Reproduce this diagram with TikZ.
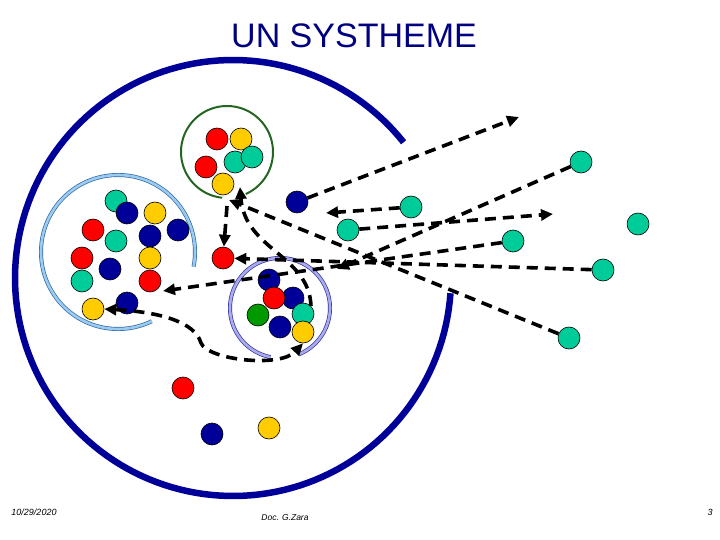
\documentclass[tikz,border=0pt]{standalone}
\usepackage{fontspec}
\setmainfont{Liberation Sans}
\usetikzlibrary{arrows.meta}
\definecolor{cred}{HTML}{FF0000}
\definecolor{cyel}{HTML}{FFCC00}
\definecolor{cteal}{HTML}{00CC99}
\definecolor{cnavy}{HTML}{000099}
\definecolor{cgreen}{HTML}{009900}
\definecolor{cdkgreen}{HTML}{226622}
\definecolor{lbband}{HTML}{99CCEE}
\definecolor{lbedge}{HTML}{3366AA}
\definecolor{lvband}{HTML}{AAAAEE}
\definecolor{lvedge}{HTML}{333399}
\definecolor{titleblue}{HTML}{000080}
\begin{document}
\begin{tikzpicture}[x=1pt,y=-1pt,
  ball/.style={circle,draw=black,line width=0.6pt,minimum size=22pt,inner sep=0pt},
  rb/.style={ball,fill=cred},
  yb/.style={ball,fill=cyel},
  tb/.style={ball,fill=cteal},
  nb/.style={ball,fill=cnavy},
  gb/.style={ball,fill=cgreen},
  darr/.style={draw=black,line width=3.6pt,dash pattern=on 11pt off 7pt,-{Triangle[length=12pt,width=11pt]}},
  ddarr/.style={draw=black,line width=3.6pt,dash pattern=on 11pt off 7pt,{Triangle[length=12pt,width=11pt]}-{Triangle[length=12pt,width=11pt]}},
  foot/.style={font=\fontsize{9}{10}\selectfont\itshape,inner sep=0pt}
]
\useasboundingbox (0,0) rectangle (720,540);

% title
\node[text=titleblue,font=\fontsize{34}{40}\selectfont,inner sep=0pt] (title) at (354,36) {UN SYSTHEME};

% system boundary
\draw[cnavy,line width=6.5pt] plot[domain=4:321.5,samples=150] ({233+218*cos(\x)},{278+218*sin(\x)});

% sub-system boundaries
\draw[cdkgreen,line width=2pt] plot[domain=96:426,samples=100] ({227+46*cos(\x)},{152+46*sin(\x)});
\draw[lbedge,line width=0.7pt,double=lbband,double distance=2.6pt] plot[domain=64:371,samples=120] ({118+77*cos(\x)},{252+77*sin(\x)});
\draw[lvedge,line width=0.7pt,double=lvband,double distance=2.6pt] plot[domain=101:428,samples=100] ({280+50*cos(\x)},{308+50*sin(\x)});

% green-circle cluster
\node[rb] (g1) at (217,139) {};
\node[yb] (g2) at (241,139) {};
\node[tb] (g3) at (235,162) {};
\node[tb] (g4) at (252,157) {};
\node[rb] (g5) at (206,167) {};
\node[yb] (g6) at (223,184) {};

% left cluster
\node[tb] (l1) at (116,201) {};
\node[nb] (l2) at (127,213) {};
\node[yb] (l3) at (155,213) {};
\node[rb] (l4) at (93,230) {};
\node[tb] (l5) at (116,241) {};
\node[nb] (l6) at (150,236) {};
\node[nb] (l7) at (178,230) {};
\node[rb] (l8) at (82,258) {};
\node[nb] (l9) at (110,269) {};
\node[yb] (l10) at (150,258) {};
\node[tb] (l11) at (82,281) {};
\node[rb] (l12) at (150,281) {};
\node[nb] (l13) at (127,303) {};
\node[yb] (yl) at (93,309) {};

% lower cluster
\node[nb] (c1) at (269,280) {};
\node[nb] (c2) at (293,298) {};
\node[rb] (c3) at (274,298) {};
\node[gb] (c4) at (258,315) {};
\node[nb] (c5) at (280,327) {};
\node[tb] (lt) at (303,314) {};
\node[yb] (ly) at (303,332) {};

% free balls inside
\node[rb] (rs) at (223,258) {};
\node[nb] (nv) at (297,202) {};
\node[rb] (b1) at (183,388) {};
\node[nb] (b2) at (212,434) {};
\node[yb] (b3) at (269,428) {};

% teal balls outside / near the boundary
\node[tb] (t1) at (411,207) {};
\node[tb] (t2) at (348,230) {};
\node[tb] (t3) at (581,162) {};
\node[tb] (t4) at (513,241) {};
\node[tb] (t5) at (638,224) {};
\node[tb] (t6) at (603,270) {};
\node[tb] (t7) at (569,338) {};

% free arrow ends
\coordinate (e1) at (519,117);
\coordinate (e2) at (337,269);
\coordinate (e3) at (326,213);
\coordinate (e4) at (553,214);
\coordinate (e5) at (163,291);
\coordinate (e7) at (229,200);
\coordinate (a8) at (227,206);
\coordinate (e9) at (240,187);

% exchanges
\draw[darr] (nv) -- (e1);
\draw[darr] (t3) -- (e2);
\draw[darr] (t1) -- (e3);
\draw[darr] (t2) -- (e4);
\draw[darr] (t4) -- (e5);
\draw[darr] (t6) -- (rs);
\draw[darr] (t7) -- (e7);
\draw[darr] (a8) -- (rs);
\draw[darr] (lt.45) .. controls (309,255) and (245,250) .. (e9);
\draw[ddarr] (yl.east) .. controls (160,312) and (195,322) .. (201,343) .. controls (208,360) and (280,368) .. (ly.south);

% footer
\node[foot] (date) at (34,512) {10/29/2020};
\node[foot,font=\fontsize{8.5}{10}\selectfont\itshape] (auth) at (285,518) {Doc. G.Zara};
\node[foot] (page) at (710,512) {3};
\end{tikzpicture}
\end{document}
